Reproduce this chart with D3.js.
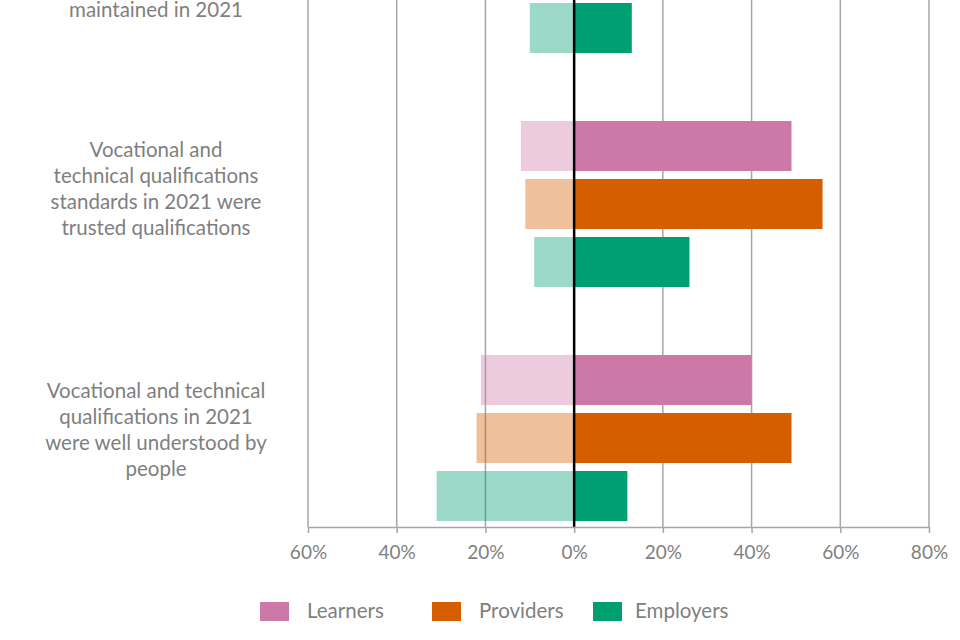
<!DOCTYPE html>
<html>
<head>
<meta charset="utf-8">
<script src="https://cdn.jsdelivr.net/npm/d3@7"></script>
<style>
  body { margin: 0; background: #fff; }
  text { font-family: Lato, "Open Sans", sans-serif; }
</style>
</head>
<body>
<svg id="chart" width="960" height="640"></svg>
<script>
// categories, top to bottom (the first one is mostly above the visible area)
var categories = [
    'Vocational and technical qualifications standards were maintained in 2021',
    'Vocational and technical qualifications standards in 2021 were trusted qualifications',
    'Vocational and technical qualifications in 2021 were well understood by people'
]
// wrapped label lines; only the last line of the first label is in view
var categoryLines = [
    ['', '', '', '', 'maintained in 2021'],
    ['Vocational and', 'technical qualifications', 'standards in 2021 were', 'trusted qualifications'],
    ['Vocational and technical', 'qualifications in 2021', 'were well understood by', 'people']
]
var seriesNames = ['Learners', 'Providers', 'Employers']

// % agree (right) and % disagree (left); null = not visible in the picture
var agreeLearners = [null, 49, 40]
var agreeProviders = [null, 56, 49]
var agreeEmployers = [13, 26, 12]
var disagreeLearners = [null, 12, 21]
var disagreeProviders = [null, 11, 22]
var disagreeEmployers = [10, 9, 31]

var tickValues = [-60, -40, -20, 0, 20, 40, 60, 80]

var colors = ['#CC79A7', '#D55E00', '#009E73']
var gridColor = '#a6a6a6'
var textColor = '#7f7f7f'

var agree = [agreeLearners, agreeProviders, agreeEmployers]
var disagree = [disagreeLearners, disagreeProviders, disagreeEmployers]

var rows = []
categories.forEach(function(c, ci) {
    seriesNames.forEach(function(s, si) {
	rows.push({cat: c, series: s, si: si, pos: agree[si][ci], neg: disagree[si][ci]})
    })
})

var svg = d3.select('#chart')
var axisY = 527

var x = d3.scaleLinear().domain([-60, 80]).range([308, 929])

var y = d3.scaleBand()
    .domain(categories)
    .range([-147, 555])
    .paddingInner(68 / 234)
    .paddingOuter(34 / 234)

var ySub = d3.scaleBand()
    .domain(seriesNames)
    .range([0, y.bandwidth()])
    .paddingInner(8 / 58)

// gridlines
svg.append('g')
    .selectAll('line')
    .data(tickValues.filter(function(d) {return d != 0;}))
    .enter()
    .append('line')
    .attr('x1', function(d) {return x(d);})
    .attr('x2', function(d) {return x(d);})
    .attr('y1', -200)
    .attr('y2', axisY)
    .attr('stroke', gridColor)
    .attr('stroke-width', 1.5)

// bars
var bars = svg.append('g')

bars.selectAll('rect.neg')
    .data(rows.filter(function(d) {return d.neg != null;}))
    .enter()
    .append('rect')
    .attr('class', 'neg')
    .attr('x', function(d) {return x(-d.neg);})
    .attr('y', function(d) {return y(d.cat) + ySub(d.series);})
    .attr('width', function(d) {return x(0) - x(-d.neg);})
    .attr('height', ySub.bandwidth())
    .attr('fill', function(d) {return colors[d.si];})
    .attr('fill-opacity', 0.39)

bars.selectAll('rect.pos')
    .data(rows.filter(function(d) {return d.pos != null;}))
    .enter()
    .append('rect')
    .attr('class', 'pos')
    .attr('x', x(0))
    .attr('y', function(d) {return y(d.cat) + ySub(d.series);})
    .attr('width', function(d) {return x(d.pos) - x(0);})
    .attr('height', ySub.bandwidth())
    .attr('fill', function(d) {return colors[d.si];})

// zero line
svg.append('line')
    .attr('x1', x(0)).attr('x2', x(0))
    .attr('y1', -200).attr('y2', axisY)
    .attr('stroke', '#000')
    .attr('stroke-width', 2.5)

// x axis
var xAxis = svg.append('g')
    .attr('transform', 'translate(0,' + axisY + ')')
    .call(d3.axisBottom(x)
	  .tickValues(tickValues)
	  .tickSize(6)
	  .tickSizeOuter(0)
	  .tickPadding(13)
	  .tickFormat(function(d) {return Math.abs(d) + '%';}))

xAxis.select('.domain').attr('stroke', gridColor).attr('stroke-width', 1.5)
xAxis.selectAll('.tick line').attr('stroke', gridColor).attr('stroke-width', 1.5)
xAxis.selectAll('.tick text')
    .attr('fill', textColor)
    .style('font-size', '19px')
    .style('font-family', 'Lato, sans-serif')

// category labels (Excel wraps them a bit unevenly, hence the small shifts)
var lineH = 26.3
var labelShift = [0, -2, 5]
svg.append('g')
    .selectAll('text')
    .data(categories)
    .enter()
    .append('text')
    .attr('text-anchor', 'middle')
    .attr('fill', textColor)
    .style('font-size', '20.5px')
    .each(function(c, ci) {
	var lines = categoryLines[ci]
	var first = y(c) + y.bandwidth() / 2 - 12 - (lines.length - 1) * lineH / 2 + 6 + labelShift[ci]
	d3.select(this).selectAll('tspan')
	    .data(lines)
	    .enter()
	    .append('tspan')
	    .attr('x', 156)
	    .attr('y', function(d, i) {return first + i * lineH;})
	    .text(function(d) {return d;})
    })

// legend
var legendX = [260, 432, 593]
var legendTextGap = [47, 47, 42]
var legend = svg.append('g')
    .selectAll('g')
    .data(seriesNames)
    .enter()
    .append('g')
    .attr('transform', function(d, i) {return 'translate(' + legendX[i] + ',602)';})

legend.append('rect')
    .attr('width', 29)
    .attr('height', 19)
    .attr('fill', function(d, i) {return colors[i];})

legend.append('text')
    .attr('x', function(d, i) {return legendTextGap[i];})
    .attr('y', 16)
    .attr('fill', textColor)
    .style('font-size', '20.5px')
    .text(function(d) {return d;})
</script>
</body>
</html>
